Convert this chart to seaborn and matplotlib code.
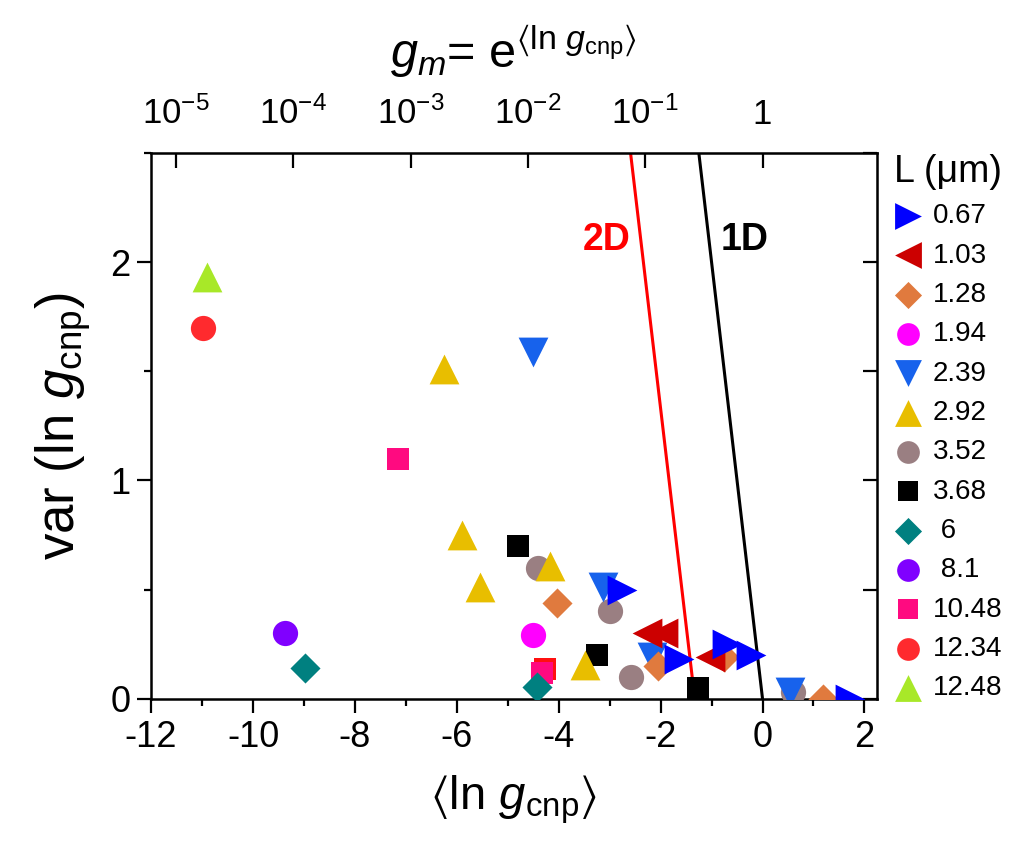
import numpy as np
import pandas as pd
import seaborn as sns
import matplotlib.pyplot as plt
from matplotlib.ticker import MultipleLocator

# channel lengths L (um), in legend order
labels = ["0.67", "1.03", "1.28", "1.94", "2.39", "2.92", "3.52", "3.68", " 6", " 8.1", "10.48", "12.34", "12.48"]
markers = [">", "<", "D", "o", "v", "^", "o", "s", "D", "o", "s", "o", "^"]
colors = ["#0000FF", "#CC0000", "#E07A3E", "#FF00FF", "#1762EC", "#E8BE00", "#9A7F82",
          "#000000", "#008080", "#8000FF", "#FF0A80", "#FF2A2E", "#A8E828"]

# <ln g_cnp> and var(ln g_cnp) per length
x_067 = [-2.75, -1.63, -0.69, -0.22, 1.72]
y_067 = [0.50, 0.18, 0.25, 0.20, 0.00]
x_103 = [-2.27, -1.96, -1.04]
y_103 = [0.30, 0.30, 0.19]
x_128 = [-4.04, -2.06, -0.75, 1.18]
y_128 = [0.44, 0.15, 0.19, 0.00]
x_194 = [-4.51]
y_194 = [0.29]
x_239 = [-4.51, -3.14, -2.16, 0.53]
y_239 = [1.59, 0.51, 0.19, 0.03]
x_292 = [-6.25, -5.90, -5.55, -4.18, -3.49]
y_292 = [1.51, 0.75, 0.51, 0.61, 0.155]
x_352 = [-4.41, -3.00, -2.59, 0.59]
y_352 = [0.60, 0.40, 0.10, 0.03]
x_368 = [-4.80, -3.25, -1.27]
y_368 = [0.70, 0.20, 0.05]
x_600 = [-8.98, -4.43]
y_600 = [0.14, 0.055]
x_810 = [-9.37]
y_810 = [0.30]
x_1048 = [-7.16, -4.33]
y_1048 = [1.10, 0.12]
x_1234 = [-10.98]
y_1234 = [1.70]
x_1248 = [-10.90]
y_1248 = [1.93]
# unlabelled red square hidden behind the 10.48 point
x_extra = [-4.27]
y_extra = [0.135]

xs = [x_067, x_103, x_128, x_194, x_239, x_292, x_352, x_368, x_600, x_810, x_1048, x_1234, x_1248]
ys = [y_067, y_103, y_128, y_194, y_239, y_292, y_352, y_368, y_600, y_810, y_1048, y_1234, y_1248]

# boundary lines: var = -2 <ln g>  (1D) and shifted (2D)
line_1d_x = [-1.25, 0.0]
line_1d_y = [2.5, 0.0]
line_2d_x = [-2.59, -1.33]
line_2d_y = [2.5, 0.0]

gm_exponents = [-5, -4, -3, -2, -1, 0]
gm_labels = ["10$^{\\mathregular{-5}}$", "10$^{\\mathregular{-4}}$", "10$^{\\mathregular{-3}}$",
             "10$^{\\mathregular{-2}}$", "10$^{\\mathregular{-1}}$", "1"]

sns.set_style("ticks")
plt.rcParams["font.family"] = ["Liberation Sans Narrow", "Liberation Sans", "DejaVu Sans"]
plt.rcParams["mathtext.fontset"] = "custom"
plt.rcParams["mathtext.rm"] = "Liberation Sans"
plt.rcParams["mathtext.it"] = "Liberation Sans:italic"
plt.rcParams["mathtext.fallback"] = "stixsans"
plt.rcParams["axes.unicode_minus"] = False
for key in ["text.color", "axes.labelcolor", "xtick.color", "ytick.color", "axes.edgecolor"]:
    plt.rcParams[key] = "black"

sizes = {"o": 330, "s": 250, "D": 235, "^": 460, "v": 460, ">": 460, "<": 460}

fig = plt.figure(figsize=(10.35, 8.5), dpi=100)
ax = fig.add_axes([0.146, 0.178, 0.701, 0.642])

sns.scatterplot(x=x_extra, y=y_extra, marker="s", color="#FF1010", s=sizes["s"],
                linewidth=0, ax=ax, zorder=2)

# draw longest channels first so short ones sit on top
for i in reversed(range(len(labels))):
    sns.scatterplot(x=xs[i], y=ys[i], marker=markers[i], color=colors[i], s=sizes[markers[i]],
                    linewidth=0, ax=ax, zorder=3 + (len(labels) - i), label=labels[i])

sns.lineplot(x=line_2d_x, y=line_2d_y, color="red", linewidth=2.2, sort=False, ax=ax, zorder=2)
sns.lineplot(x=line_1d_x, y=line_1d_y, color="black", linewidth=2.2, sort=False, ax=ax, zorder=2)
ax.text(-3.06, 2.10, "2D", color="red", fontsize=27, fontweight="bold", ha="center", va="center")
ax.text(-0.35, 2.10, "1D", color="black", fontsize=27, fontweight="bold", ha="center", va="center")

ax.set_xlim(-12, 2.24)
ax.set_ylim(0, 2.5)
ax.xaxis.set_major_locator(MultipleLocator(2))
ax.xaxis.set_minor_locator(MultipleLocator(1))
ax.yaxis.set_major_locator(MultipleLocator(1))
ax.yaxis.set_minor_locator(MultipleLocator(0.5))
ax.tick_params(which="major", direction="out", length=10, width=1.6, labelsize=26, pad=5)
ax.tick_params(which="minor", direction="out", length=5, width=1.6)
for sp in ax.spines.values():
    sp.set_linewidth(1.8)
    sp.set_visible(True)

ax.set_xlabel(r"$\langle\mathrm{ln}\ g_{\mathrm{cnp}}\rangle$", fontsize=34, labelpad=14)
ax.set_ylabel(r"var (ln $g_{\mathrm{cnp}}$)", fontsize=38, labelpad=12)

# top axis: g_m = exp(<ln g>)
top = ax.secondary_xaxis("top")
top.set_xticks(np.log(10.0 ** np.array(gm_exponents)), gm_labels)
top.tick_params(direction="in", length=11, width=1.6, labelsize=25, pad=16)
top.xaxis.set_minor_locator(plt.NullLocator())
top.set_xlabel(r"$g_m$= e$^{\langle\mathrm{ln}\ g_{\mathrm{cnp}}\rangle}$", fontsize=35, labelpad=20)

right = ax.secondary_yaxis("right")
right.yaxis.set_major_locator(MultipleLocator(0.5))
right.yaxis.set_minor_locator(plt.NullLocator())
right.tick_params(direction="in", length=10, width=1.6, labelright=False)

h, l = ax.get_legend_handles_labels()
order = [l.index(lab) for lab in labels]
leg = ax.legend([h[k] for k in order], [l[k] for k in order], title="L (μm)",
                loc="upper left", bbox_to_anchor=(0.853, 0.832), bbox_transform=fig.transFigure,
                frameon=False, fontsize=20, title_fontsize=27, markerscale=0.9,
                labelspacing=0.48, handletextpad=0.4, handlelength=1.0, borderaxespad=0)
leg._legend_box.align = "left"

plt.savefig("out.png", dpi=100)
